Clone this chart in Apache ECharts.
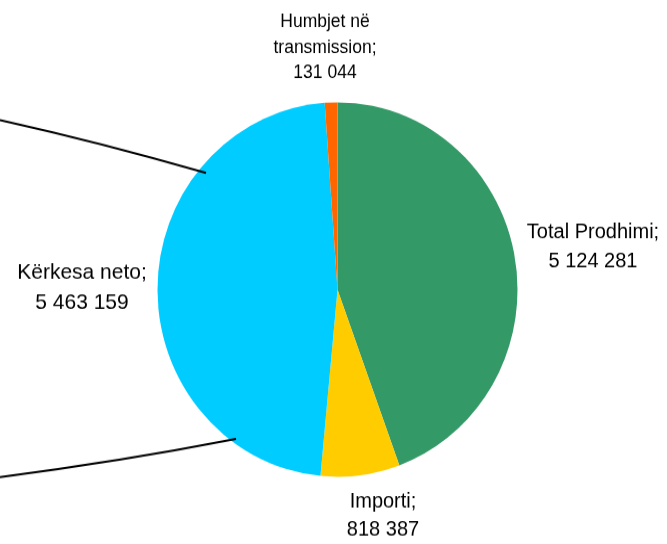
<!DOCTYPE html>
<html><head><meta charset="utf-8">
<script src="https://cdn.jsdelivr.net/npm/echarts@6/dist/echarts.min.js"></script>
<style>html,body{margin:0;padding:0;background:#fff;width:667px;height:544px}#c{width:667px;height:523px;transform:scaleY(1.04);transform-origin:0 0}</style>
</head><body><div id="c"></div>
<script>
const categories = ['Total Prodhimi', 'Importi', 'Kërkesa neto', 'Humbjet në transmission'];
const values = [5124281, 818387, 5463159, 131044];
const colors = ['#339966', '#FFCC00', '#00CCFF', '#FF6600'];

function fmt(v) { return String(v).replace(/\B(?=(\d{3})+(?!\d))/g, ' '); }

const labelPos = [
  { x: 593, y: 237.5 },
  { x: 383, y: 496 },
  { x: 82, y: 276.5 },
  { x: 325, y: 45.7 }
];

const chart = echarts.init(document.getElementById('c'), null, { renderer: 'canvas' });
chart.setOption({
  animation: false,
  backgroundColor: '#fff',
  series: [{
    type: 'pie',
    center: [337.5, 278.4],
    radius: 180,
    startAngle: 90,
    clockwise: true,
    data: categories.map((n, i) => ({
      name: n, value: values[i],
      itemStyle: { color: colors[i] },
      label: i === 3 ? { fontSize: 17.5, lineHeight: 24.5 } : (i === 1 ? { lineHeight: 27 } : (i === 2 ? { fontSize: 21 } : {}))
    })),
    label: {
      show: true,
      position: 'outside',
      overflow: 'none',
      fontFamily: 'Liberation Sans, Arial, sans-serif',
      fontSize: 20,
      lineHeight: 28.5,
      color: '#000',
      align: 'center',
      formatter: p => {
        const nm = p.dataIndex === 3 ? p.name.replace(' transmission', '\ntransmission') : p.name;
        return nm + ';\n' + fmt(p.value);
      }
    },
    labelLine: { show: false },
    labelLayout: p => ({ x: labelPos[p.dataIndex].x, y: labelPos[p.dataIndex].y, align: 'center', verticalAlign: 'middle' }),
    emphasis: { disabled: true }
  }],
  graphic: [
    { type: 'bezierCurve', z: 100, shape: { x1: 0, y1: 115.4, x2: 206, y2: 166.3, cpx1: 103, cpy1: 137.5 }, style: { stroke: '#000', lineWidth: 2, fill: null } },
    { type: 'bezierCurve', z: 100, shape: { x1: 0, y1: 458.7, x2: 236, y2: 422.1, cpx1: 118, cpy1: 444.2 }, style: { stroke: '#000', lineWidth: 2, fill: null } }
  ]
});
</script></body></html>
